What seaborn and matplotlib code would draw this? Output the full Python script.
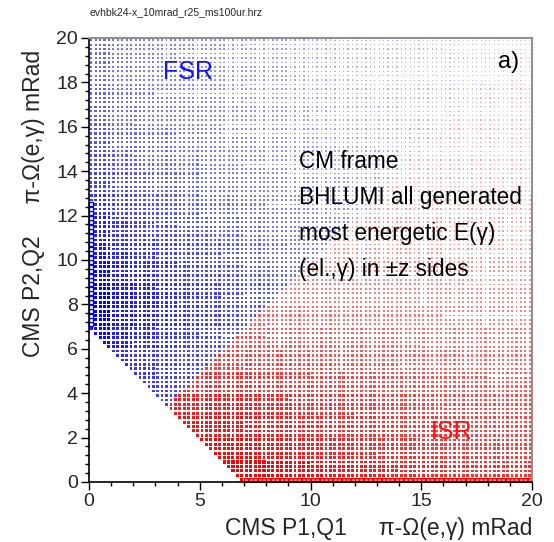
import numpy as np
import pandas as pd
import matplotlib
matplotlib.use("Agg")
import matplotlib.pyplot as plt
import seaborn as sns

# Histogram binning (mRad)
bin_width = 0.2
axis_max = 20.0

# Relative bin content per 1 mRad strip, FSR component (blue)
fsr_x_weight = [0.95, 0.86, 0.80, 0.76, 0.72, 0.68, 0.64, 0.60, 0.56, 0.52,
                0.48, 0.45, 0.42, 0.40, 0.38, 0.36, 0.34, 0.32, 0.30, 0.30]
fsr_y_weight = [0.90, 0.90, 0.90, 0.90, 0.90, 0.90, 0.95, 1.00, 1.00, 0.95,
                0.90, 0.85, 0.78, 0.72, 0.68, 0.64, 0.60, 0.57, 0.55, 0.55]

# Relative bin content per 1 mRad strip, ISR component (red)
isr_x_weight = [1.00, 1.00, 1.00, 1.00, 1.00, 1.00, 1.00, 0.98, 0.95, 0.92,
                0.90, 0.88, 0.86, 0.84, 0.82, 0.80, 0.78, 0.77, 0.76, 0.75]
isr_y_weight = [1.00, 0.92, 0.88, 0.84, 0.76, 0.70, 0.64, 0.56, 0.50, 0.46,
                0.42, 0.39, 0.36, 0.34, 0.32, 0.30, 0.29, 0.28, 0.27, 0.26]

# Acceptance cut on P1 + P2 (mRad)
sum_cut = 6.9
# Saturated edge strips: FSR along P1 = 0, ISR along P2 = 0
fsr_edge_y = (7.0, 12.6)
isr_edge_x = (7.0, 20.0)

text_lines = ["CM frame", "BHLUMI all generated",
              "most energetic E(\u03b3)", "(el.,\u03b3) in \u00b1z sides"]

sns.set_theme(style="white")
plt.rcParams["font.family"] = ["Liberation Sans", "DejaVu Sans"]

n_bins = int(round(axis_max / bin_width))
centers = (np.arange(n_bins) + 0.5) * bin_width
X, Y = np.meshgrid(centers, centers)
ix = np.floor(X).astype(int)
iy = np.floor(Y).astype(int)
inside = (X + Y) > sum_cut

fsr_w = np.array(fsr_x_weight)[ix] * np.array(fsr_y_weight)[iy]
isr_w = np.array(isr_x_weight)[ix] * np.array(isr_y_weight)[iy]
fsr_mask = inside & (Y >= X)
isr_mask = inside & (Y < X)

fsr = pd.DataFrame({"x": X[fsr_mask], "y": Y[fsr_mask], "w": fsr_w[fsr_mask]})
isr = pd.DataFrame({"x": X[isr_mask], "y": Y[isr_mask], "w": isr_w[isr_mask]})

fsr_edge = pd.DataFrame({"x": centers[:1].repeat(n_bins), "y": centers})
fsr_edge = fsr_edge[(fsr_edge.y > fsr_edge_y[0]) & (fsr_edge.y < fsr_edge_y[1])]
isr_edge = pd.DataFrame({"x": centers, "y": centers[:1].repeat(n_bins)})
isr_edge = isr_edge[(isr_edge.x > isr_edge_x[0]) & (isr_edge.x < isr_edge_x[1])]

fig = plt.figure(figsize=(5.54, 5.42), dpi=100)
ax = fig.add_axes([89 / 554, 1 - 482 / 542, 443 / 554, 444 / 542])

blue_map = sns.blend_palette(["#c4c4ff", "#6060ff", "#0000ff"], as_cmap=True)
red_map = sns.blend_palette(["#ffc4c4", "#ff6060", "#ff0000"], as_cmap=True)

sns.scatterplot(data=fsr, x="x", y="y", size="w", sizes=(0.5, 5.0),
                size_norm=(0.15, 1), hue="w", hue_norm=(0.15, 0.95),
                palette=blue_map, marker="s", linewidth=0, legend=False,
                ax=ax)
sns.scatterplot(data=isr, x="x", y="y", size="w", sizes=(0.5, 5.0),
                size_norm=(0.15, 1), hue="w", hue_norm=(0.15, 0.95),
                palette=red_map, marker="s", linewidth=0, legend=False,
                ax=ax)
sns.scatterplot(data=fsr_edge, x="x", y="y", s=11, marker="s",
                facecolor="white", edgecolor="#0000ff", linewidth=0.9,
                legend=False, ax=ax)
sns.scatterplot(data=isr_edge, x="x", y="y", s=10, marker="s",
                facecolor="#ff9090", edgecolor="#ff0000", linewidth=0.9,
                legend=False, ax=ax)

ax.set_xlim(0, axis_max)
ax.set_ylim(0, axis_max)
ax.set_xticks(np.arange(0, 21, 5))
ax.set_xticks(np.arange(0, 21, 1), minor=True)
ax.set_yticks(np.arange(0, 21, 2))
ax.set_yticks(np.arange(0, 20.01, 0.4), minor=True)
ax.tick_params(which="major", direction="out", length=6, width=1,
               color="black", labelsize=14, pad=2, left=True, bottom=True)
ax.tick_params(which="minor", direction="out", length=3, width=1,
               color="black", left=True, bottom=True)
ax.set_xlabel("")
ax.set_ylabel("")
for side in ("left", "bottom"):
    ax.spines[side].set_color("black")
    ax.spines[side].set_linewidth(1.2)
for side in ("top", "right"):
    ax.spines[side].set_color("#909090")
    ax.spines[side].set_linewidth(1.5)

ax.text(3.35, 18.47, "FSR", color="#1010ff", fontsize=18, va="center",
        zorder=5)
ax.text(15.45, 2.25, "ISR", color="#ff1010", fontsize=18, va="center",
        zorder=5)
ax.text(18.45, 18.9, "a)", color="black", fontsize=17, va="center",
        zorder=5)
for k, line in enumerate(text_lines):
    ax.text(9.5, 14.45 - 1.63 * k, line, color="black", fontsize=16.3,
            va="center", zorder=5)

fig.text(90 / 554, 1 - 12 / 542, "evhbk24-x_10mrad_r25_ms100ur.hrz",
         fontsize=7.5, va="center", ha="left")
fig.text(532 / 554, 1 - 528 / 542,
         "CMS P1,Q1     \u03c0-\u03a9(e,\u03b3) mRad",
         fontsize=16.5, ha="right", va="center")
fig.text(34 / 554, 1 - 50 / 542,
         "CMS P2,Q2     \u03c0-\u03a9(e,\u03b3) mRad",
         fontsize=16.5, ha="center", va="top", rotation=90)

fig.savefig("out.png", dpi=100)
